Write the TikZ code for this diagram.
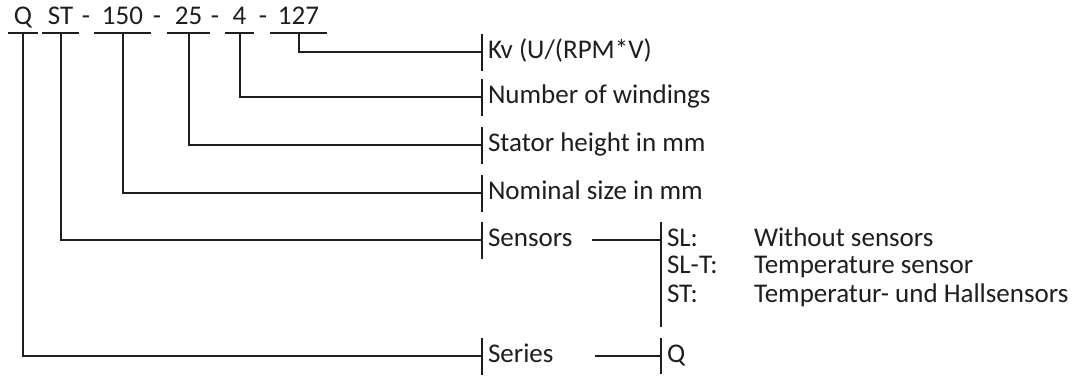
\documentclass[tikz,border=0pt]{standalone}
\usepackage{fontspec}
\setmainfont{Carlito}
\definecolor{ink}{HTML}{1E1E1E}
\begin{document}
\begin{tikzpicture}[x=0.5pt,y=-0.5pt,line width=1pt,draw=ink,
  every node/.style={text=ink,font=\fontsize{13.5}{16}\selectfont,inner sep=0pt,text height=0.644em,text depth=0pt},
  code/.style={anchor=south},
  lab/.style={anchor=west,inner xsep=2.5pt},
  desc/.style={anchor=west}]
\useasboundingbox (0,0) rectangle (1074,376);
% code parts
\node[code,minimum width=14pt] (cQ)   at (23,25)    {Q};
\node[code,minimum width=17.5pt] (cST)  at (60.5,25)  {ST};
\node[code,minimum width=27.5pt] (c150) at (122.5,25) {150};
\node[code,minimum width=20.5pt] (c25)  at (188.5,25) {25};
\node[code,minimum width=13.5pt] (c4)   at (239.5,25) {4};
\node[code,minimum width=27.5pt] (c127) at (298.5,25) {127};
\node[code] (d1) at (86,25)  {-};
\node[code] (d2) at (157,25) {-};
\node[code] (d3) at (215,25) {-};
\node[code] (d4) at (263,25) {-};
\foreach \n in {cQ,cST,c150,c25,c4,c127}
  \draw ([yshift=-4pt]\n.south west) -- ([yshift=-4pt]\n.south east);
% labels
\node[lab] (kv)  at (482,52)  {Kv (U/(RPM*V)};
\node[lab] (nw)  at (482,97)  {Number of windings};
\node[lab] (sh)  at (482,145) {Stator height in mm};
\node[lab] (ns)  at (482,193) {Nominal size in mm};
\node[lab] (sen) at (482,240) {Sensors};
\node[lab] (ser) at (482,356) {Series};
\foreach \n in {kv,nw,sh,ns,sen,ser}
  \draw ([yshift=9.25pt]\n.west) -- ([yshift=-9.25pt]\n.west);
% connectors
\draw ([yshift=-4pt]c127.south) |- (kv.west);
\draw ([yshift=-4pt]c4.south)   |- (nw.west);
\draw ([yshift=-4pt]c25.south)  |- (sh.west);
\draw ([yshift=-4pt]c150.south) |- (ns.west);
\draw ([yshift=-4pt]cST.south)  |- (sen.west);
\draw ([yshift=-4pt]cQ.south)   |- (ser.west);
% sensor options
\node[lab] (sl)  at (661,240) {SL:};
\node[lab] (slt) at (661,267) {SL-T:};
\node[lab] (st)  at (661,296) {ST:};
\node[desc] (dsl)  at (753,240) {Without sensors};
\node[desc] (dslt) at (753,267) {Temperature sensor};
\node[desc] (dst)  at (753,296) {Temperatur- und Hallsensors};
\draw ([yshift=9pt]sl.west) -- ([yshift=-15.5pt]st.west);
\coordinate (sfree) at (592,240);
\draw (sfree) -- (sl.west);
% series option
\node[lab] (sq) at (661,356) {Q};
\draw ([yshift=9pt]sq.west) -- ([yshift=-9pt]sq.west);
\coordinate (qfree) at (595,356);
\draw (qfree) -- (sq.west);
\end{tikzpicture}
\end{document}
